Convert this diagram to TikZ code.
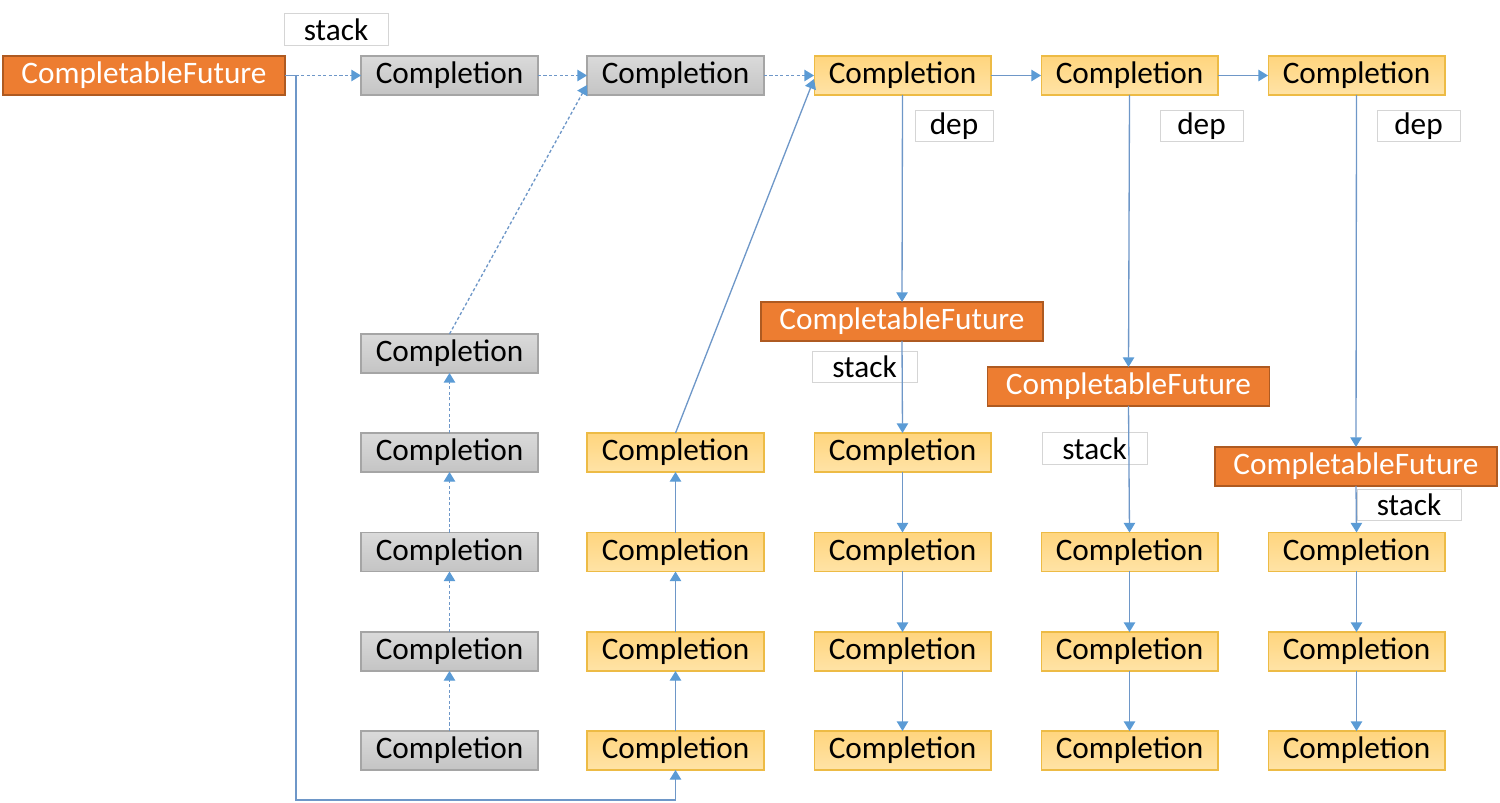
\documentclass[tikz,border=0pt]{standalone}
\usepackage{fontspec}
\setmainfont{Carlito}
\usetikzlibrary{arrows.meta,calc}
\definecolor{lineblue}{HTML}{6E97C8}
\definecolor{tipblue}{HTML}{5B9BD5}
\definecolor{grayTop}{HTML}{DADADA}
\definecolor{grayBot}{HTML}{C4C4C4}
\definecolor{grayBrd}{HTML}{A5A5A5}
\definecolor{yelTop}{HTML}{FFD57E}
\definecolor{yelBot}{HTML}{FFE3A6}
\definecolor{yelBrd}{HTML}{EDBB45}
\definecolor{orgFill}{HTML}{ED7D31}
\definecolor{orgBrd}{HTML}{AE5A21}
\definecolor{lblBrd}{HTML}{D5D5D5}
\tikzset{
  x=0.02cm, y=-0.02cm,
  every node/.style={font=\fontsize{17.8pt}{20pt}\selectfont, inner sep=0pt, outer sep=0pt},
  graybox/.style={draw=grayBrd, line width=0.6pt, top color=grayTop, bottom color=grayBot, minimum width=3.54cm, minimum height=0.78cm},
  yelbox/.style={draw=yelBrd, line width=0.6pt, top color=yelTop, bottom color=yelBot, minimum width=3.54cm, minimum height=0.78cm},
  cfbox/.style={draw=orgBrd, line width=0.7pt, fill=orgFill, text=white, minimum width=5.64cm, minimum height=0.78cm},
  lbl/.style={draw=lblBrd, line width=0.5pt, fill=white, minimum height=0.63cm},
  conn/.style={draw=lineblue, line width=0.75pt, -{Triangle[length=5.5pt,width=6.5pt,fill=tipblue,color=tipblue]}},
  dotconn/.style={conn, dash pattern=on 1.8pt off 1.3pt},
  plain/.style={draw=lineblue, line width=0.75pt}
}
\begin{document}
\begin{tikzpicture}
\useasboundingbox (0,0) rectangle (1500,803);
% top row
\node[cfbox] (cf0) at (144,75.5) {CompletableFuture};
\node[lbl, minimum width=2.08cm] (s0) at (336,29.5) {stack};
\node[graybox] (t1) at (449.5,75.5) {Completion};
\node[graybox] (t2) at (675.5,75.5) {Completion};
\node[yelbox] (t3) at (902.5,75.5) {Completion};
\node[yelbox] (t4) at (1129.5,75.5) {Completion};
\node[yelbox] (t5) at (1356.5,75.5) {Completion};
% column 1 (gray)
\node[graybox] (a1) at (449.5,353.5) {Completion};
\node[graybox] (a2) at (449.5,452.5) {Completion};
\node[graybox] (a3) at (449.5,552) {Completion};
\node[graybox] (a4) at (449.5,651.5) {Completion};
\node[graybox] (a5) at (449.5,750.5) {Completion};
% column 2
\node[yelbox] (b2) at (675.5,452.5) {Completion};
\node[yelbox] (b3) at (675.5,552) {Completion};
\node[yelbox] (b4) at (675.5,651.5) {Completion};
\node[yelbox] (b5) at (675.5,750.5) {Completion};
% column 3
\node[cfbox] (cf3) at (902,321.5) {CompletableFuture};
\node[yelbox] (c2) at (902.5,452.5) {Completion};
\node[yelbox] (c3) at (902.5,552) {Completion};
\node[yelbox] (c4) at (902.5,651.5) {Completion};
\node[yelbox] (c5) at (902.5,750.5) {Completion};
% column 4
\node[cfbox] (cf4) at (1128.5,386.5) {CompletableFuture};
\node[yelbox] (d3) at (1129.5,552) {Completion};
\node[yelbox] (d4) at (1129.5,651.5) {Completion};
\node[yelbox] (d5) at (1129.5,750.5) {Completion};
% column 5
\node[cfbox] (cf5) at (1356,466.5) {CompletableFuture};
\node[yelbox] (e3) at (1356.5,552) {Completion};
\node[yelbox] (e4) at (1356.5,651.5) {Completion};
\node[yelbox] (e5) at (1356.5,750.5) {Completion};
% labels
\node[lbl, minimum width=1.56cm] (dep3) at (954,126) {dep};
\node[lbl, minimum width=1.66cm] (dep4) at (1201.5,126) {dep};
\node[lbl, minimum width=1.66cm] (dep5) at (1418.5,126) {dep};
\node[lbl, minimum width=2.1cm] (s3) at (864.5,367) {stack};
\node[lbl, minimum width=2.1cm] (s4) at (1094.5,448.5) {stack};
\node[lbl, minimum width=2.08cm] (s5) at (1409,505) {stack};
% coordinates
\coordinate (corner) at (296,800);
\coordinate (t2in) at (587,85);
\coordinate (t3in) at (814,79);
% top row connectors
\draw[dotconn] (cf0.east) -- (t1.west);
\draw[dotconn] (t1.east) -- (t2.west);
\draw[dotconn] (t2.east) -- (t3.west);
\draw[conn] (t3.east) -- (t4.west);
\draw[conn] (t4.east) -- (t5.west);
% from first future around bottom
\draw[conn] (cf0.east) -| (corner) -| (b5.south);
% column 1 dotted up
\draw[dotconn] (a5.north) -- (a4.south);
\draw[dotconn] (a4.north) -- (a3.south);
\draw[dotconn] (a3.north) -- (a2.south);
\draw[dotconn] (a2.north) -- (a1.south);
\draw[dotconn] (a1.north) -- (t2in);
% column 2 solid up
\draw[conn] (b5.north) -- (b4.south);
\draw[conn] (b4.north) -- (b3.south);
\draw[conn] (b3.north) -- (b2.south);
\draw[conn] (b2.north) -- (t3in);
% column 3
\draw[conn] (t3.south) -- (cf3.north);
\draw[conn] (cf3.south) -- (c2.north);
\draw[conn] (c2.south) -- (c3.north);
\draw[conn] (c3.south) -- (c4.north);
\draw[conn] (c4.south) -- (c5.north);
% column 4
\draw[conn] (t4.south) -- (cf4.north);
\draw[conn] (cf4.south) -- (d3.north);
\draw[conn] (d3.south) -- (d4.north);
\draw[conn] (d4.south) -- (d5.north);
% column 5
\draw[conn] (t5.south) -- (cf5.north);
\draw[conn] (cf5.south) -- (e3.north);
\draw[conn] (e3.south) -- (e4.north);
\draw[conn] (e4.south) -- (e5.north);
\end{tikzpicture}
\end{document}
